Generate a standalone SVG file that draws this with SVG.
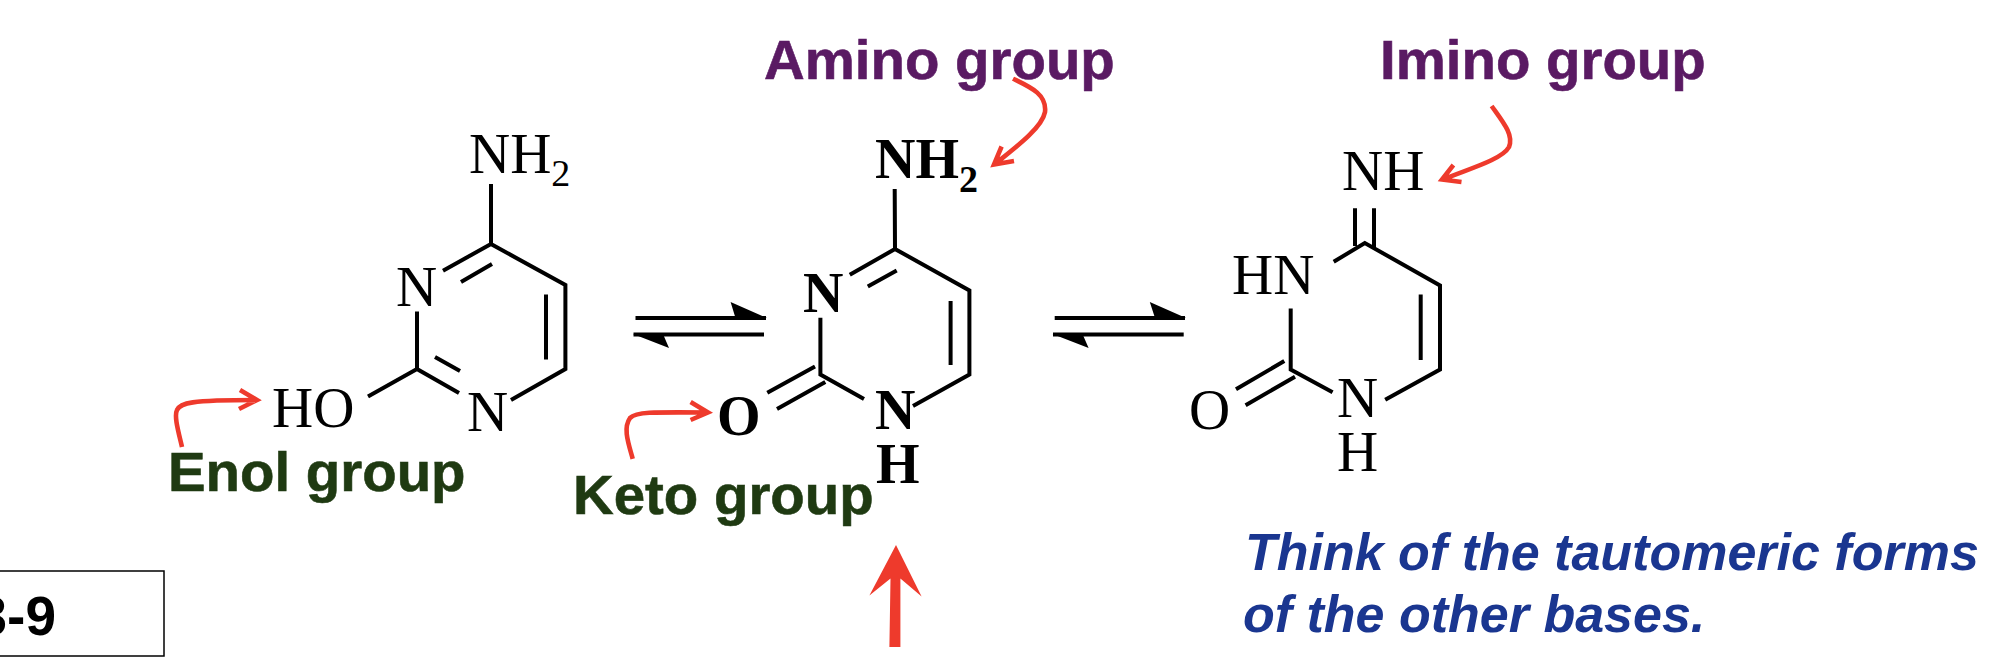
<svg xmlns="http://www.w3.org/2000/svg" width="1992" height="660" viewBox="0 0 1992 660">
<style>
.b{fill:none;stroke:#000;stroke-width:4}
.r{font-family:"Liberation Serif",serif;font-size:57px;fill:#000}
.rb{font-family:"Liberation Serif",serif;font-size:56px;font-weight:700;fill:#000}
.s{font-size:38px}
.g{font-family:"Liberation Sans",Arial,sans-serif;font-size:56.4px;font-weight:700;stroke-width:.6}
.grn{fill:#1f3a12;stroke:#1f3a12}
.pur{fill:#5a1a63;stroke:#5a1a63}
.blu{font-family:"Liberation Sans",Arial,sans-serif;font-size:52px;font-weight:700;font-style:italic;fill:#1a3690}
.ra{fill:none;stroke:#ee3a2c;stroke-width:4.6}
</style>
<rect width="1992" height="660" fill="#fff"/>
<g id="label-box">
<rect x="-10" y="571" width="174" height="85" fill="#fff" stroke="#000" stroke-width="1.5"/>
<text x="56" y="635" text-anchor="end" style="font-family:'Liberation Sans',Arial,sans-serif;font-size:55px;font-weight:700">3-9</text>
</g>
<g id="enol-form">
<path class="b" d="M491 184V244L565.4 285V369L511 400M459 393L417 369V311.4M443 270.7L491 244M461 282L492 264M546 294.6V359.6M435 357L460 371M417 369L368 396.4"/>
<text class="r" x="469" y="173">NH<tspan class="s" dy="13">2</tspan></text>
<text class="r" x="396" y="306">N</text>
<text class="r" x="467" y="431">N</text>
<text class="r" x="272" y="427">HO</text>
</g>
<g id="keto-amino-form">
<path class="b" d="M894.7 189L895 249L969.4 290.4V374.6L913 406M864 399L820.4 374.6V317.8M849.8 274.8L895 249M867.8 286.6L896.7 270.6M950.6 301V365M767.3 392.7L815 366.6M777 409L825.3 382"/>
<text class="rb" x="875" y="177.6">NH<tspan dy="14" style="font-size:38px">2</tspan></text>
<text class="rb" x="803" y="312">N</text>
<text class="rb" x="875" y="429">N</text>
<text class="rb" x="876" y="482.7">H</text>
<text class="rb" x="717" y="434.8">O</text>
</g>
<g id="imino-form">
<path class="b" d="M1355 208.3V246M1374 208.3V248M1333.7 261.8L1364.8 243L1440 285.4V369.5L1385.2 399.8M1332.6 392.3L1290.7 369.5V308.5M1420.7 294.6V359.9M1236 389.3L1284.3 361M1245.6 405.3L1295 376.7"/>
<text class="r" x="1342" y="190">NH</text>
<text class="r" x="1232" y="293.8">HN</text>
<text class="r" x="1337" y="416.7">N</text>
<text class="r" x="1337" y="471.4">H</text>
<text class="r" x="1189" y="428.5">O</text>
</g>
<g id="labels">
<text class="g grn" x="168" y="490.5">Enol group</text>
<text class="g grn" x="573" y="514">Keto group</text>
<text class="g pur" x="764" y="79">Amino group</text>
<text class="g pur" x="1380" y="79">Imino group</text>
<text class="blu" x="1245" y="570">Think of the tautomeric forms</text>
<text class="blu" x="1243" y="632">of the other bases.</text>
</g>
<g id="connectors">
<path class="b" d="M635.5 318H766M633.5 334.5H764"/>
<path d="M730.6 302L767 318H735.5ZM633 334L669 348L663 334Z" fill="#000"/>
<path class="b" d="M1054.7 318H1185M1053 334.5H1183.7"/>
<path d="M1149.8 302L1186 318H1155ZM1052.5 334L1088.6 348L1082.5 334Z" fill="#000"/>
<path class="ra" d="M182 447C178 430 174 416 177 410C180 403 190 400 256 400M240 390L257 400L239 409"/>
<path class="ra" d="M632.7 458.8C628 442 623 428 630 418C636 412 650 412 707 412.5M690.6 402L708 412.5L690.6 420"/>
<path class="ra" d="M1013 78.7C1030 87 1047 94 1045 112C1042 128 1015 148 995 164M1001.6 146.5L994 164.5L1014 161"/>
<path class="ra" d="M1491.6 106C1503 122 1514 135 1509 147C1502 160 1465 170 1443 179.5M1453.4 165L1442 179.5L1461.5 182"/>
<path d="M896 545L921.6 596.4L900.4 578.5L900.4 647H889.4L890.5 578.5L869.4 595.5Z" fill="#ee3a2c"/>
</g>
</svg>
